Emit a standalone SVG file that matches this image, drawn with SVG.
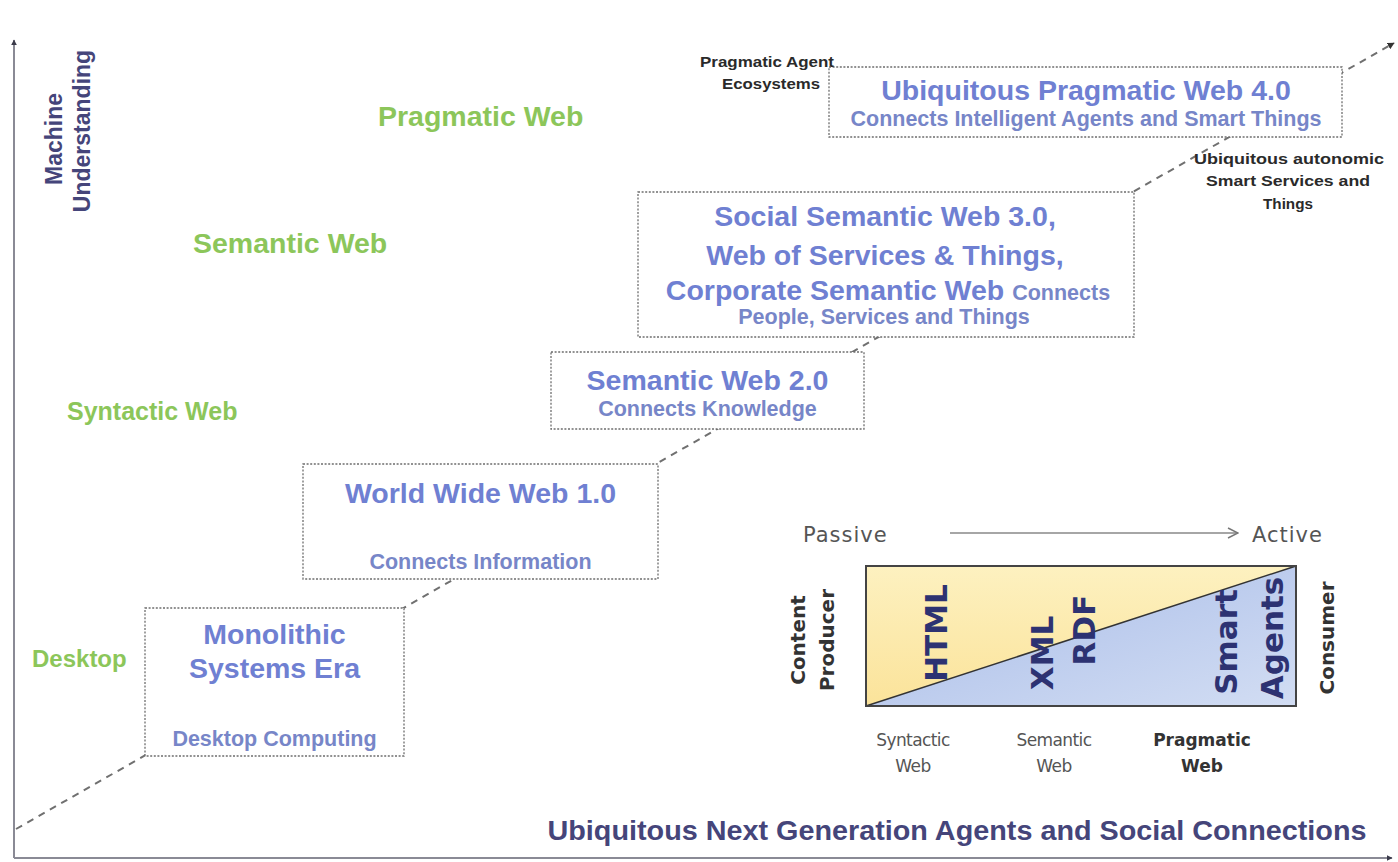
<svg xmlns="http://www.w3.org/2000/svg" width="1398" height="862" viewBox="0 0 1398 862">
<defs>
<style>
.box{fill:#fff;stroke:#6e6e6e;stroke-width:1.3;stroke-dasharray:2 1.6}
.t{font-family:"Liberation Sans",Arial,sans-serif;font-weight:bold;fill:#6f80d2;text-anchor:middle}
.tt{font-size:28.5px}
.ts{font-size:21.5px;fill:#7786c8}
.g{font-family:"Liberation Sans",Arial,sans-serif;font-weight:bold;fill:#8cc65a}
.k{font-family:"Liberation Sans",Arial,sans-serif;font-weight:bold;fill:#2a2a2a;font-size:15px;text-anchor:middle}
.ax{font-family:"Liberation Sans",Arial,sans-serif;font-weight:bold;fill:#45457a}
.dv{font-family:"DejaVu Sans",Verdana,sans-serif;fill:#555}
.dvb{font-family:"DejaVu Sans",Verdana,sans-serif;font-weight:bold;fill:#2d3272}
.axis{stroke:#8a8a95;stroke-width:2;fill:none}
.diag{stroke:#707070;stroke-width:2;stroke-dasharray:7 6;fill:none}
</style>
<marker id="ah" viewBox="0 0 10 10" refX="9" refY="5" markerWidth="6" markerHeight="6" orient="auto" markerUnits="userSpaceOnUse">
<path d="M0,0 L10,5 L0,10 z" fill="#3a3a4a"/>
</marker>
<marker id="ahs" viewBox="0 0 10 10" refX="9" refY="5" markerWidth="7" markerHeight="7" orient="auto" markerUnits="userSpaceOnUse">
<path d="M0,0 L10,5 L0,10 z" fill="#333"/>
</marker>
<marker id="open" viewBox="0 0 12 12" refX="11" refY="6" markerWidth="12" markerHeight="12" orient="auto" markerUnits="userSpaceOnUse">
<path d="M1,1 L11,6 L1,11" fill="none" stroke="#777" stroke-width="1.5"/>
</marker>
<linearGradient id="yel" x1="0" y1="0" x2="0" y2="1">
<stop offset="0" stop-color="#fdf1c0"/>
<stop offset="1" stop-color="#fbe39a"/>
</linearGradient>
<linearGradient id="blu" x1="0" y1="0" x2="1" y2="1">
<stop offset="0" stop-color="#a7bbe8"/>
<stop offset="1" stop-color="#d2ddf3"/>
</linearGradient>
</defs>
<rect width="1398" height="862" fill="#fff"/>

<g id="axes">
<line class="axis" x1="14" y1="858" x2="14" y2="40" marker-end="url(#ah)"/>
<line class="axis" x1="14" y1="858" x2="1392" y2="858" marker-end="url(#ah)"/>
<text class="ax" font-size="23" transform="translate(62,139) rotate(-90)" text-anchor="middle">Machine</text>
<text class="ax" font-size="23" transform="translate(90,131) rotate(-90)" text-anchor="middle">Understanding</text>
<text class="ax" font-size="27" x="957" y="840" text-anchor="middle" textLength="819" lengthAdjust="spacingAndGlyphs">Ubiquitous Next Generation Agents and Social Connections</text>
</g>

<g id="connectors">
<line class="diag" x1="16" y1="829" x2="1394" y2="43" marker-end="url(#ahs)"/>
</g>

<g id="levels">
<text class="g" font-size="28.5" x="378" y="126">Pragmatic Web</text>
<text class="g" font-size="28.5" x="193" y="253">Semantic Web</text>
<text class="g" font-size="25" x="67" y="420">Syntactic Web</text>
<text class="g" font-size="24" x="32" y="667">Desktop</text>
</g>

<g id="box1">
<rect class="box" x="145" y="608" width="259" height="148"/>
<text class="t tt" x="274.5" y="644">Monolithic</text>
<text class="t tt" x="274.5" y="678">Systems Era</text>
<text class="t ts" x="274.5" y="746">Desktop Computing</text>
</g>

<g id="box2">
<rect class="box" x="303" y="464" width="355" height="115"/>
<text class="t tt" x="480.5" y="503">World Wide Web 1.0</text>
<text class="t ts" x="480.5" y="569">Connects Information</text>
</g>

<g id="box3">
<rect class="box" x="551" y="352" width="313" height="77"/>
<text class="t tt" x="707.5" y="390">Semantic Web 2.0</text>
<text class="t ts" x="707.5" y="416">Connects Knowledge</text>
</g>

<g id="box4">
<rect class="box" x="638" y="192" width="496" height="145"/>
<text class="t tt" x="885" y="226">Social Semantic Web 3.0,</text>
<text class="t tt" x="885" y="265">Web of Services &amp; Things,</text>
<text class="t tt" x="888" y="300">Corporate Semantic Web <tspan class="ts" font-size="22px">Connects</tspan></text>
<text class="t ts" x="884" y="324" font-size="22px">People, Services and Things</text>
</g>

<g id="box5">
<rect class="box" x="829" y="67" width="513" height="70"/>
<text class="t tt" x="1086" y="100">Ubiquitous Pragmatic Web 4.0</text>
<text class="t ts" x="1086" y="126">Connects Intelligent Agents and Smart Things</text>
</g>

<g id="note-agents">
<text class="k" x="767" y="67" textLength="134" lengthAdjust="spacingAndGlyphs">Pragmatic Agent</text>
<text class="k" x="771" y="89" textLength="98" lengthAdjust="spacingAndGlyphs">Ecosystems</text>
</g>

<g id="note-services">
<text class="k" x="1289" y="164" textLength="190" lengthAdjust="spacingAndGlyphs">Ubiquitous autonomic</text>
<text class="k" x="1288" y="186" textLength="164" lengthAdjust="spacingAndGlyphs">Smart Services and</text>
<text class="k" x="1288" y="209" textLength="50" lengthAdjust="spacingAndGlyphs">Things</text>
</g>

<g id="inset">
<text class="dv" font-size="21" x="803" y="542" letter-spacing="1">Passive</text>
<line x1="950" y1="533" x2="1238" y2="533" stroke="#888" stroke-width="1.5" marker-end="url(#open)"/>
<text class="dv" font-size="21" x="1252" y="542" letter-spacing="1">Active</text>
<polygon points="866,566 1296,566 866,706" fill="url(#yel)"/>
<polygon points="1296,566 1296,706 866,706" fill="url(#blu)"/>
<line x1="866" y1="706" x2="1296" y2="566" stroke="#333" stroke-width="1.5"/>
<rect x="866" y="566" width="430" height="140" fill="none" stroke="#444" stroke-width="2"/>
<text class="dvb" font-size="31" transform="translate(947,633) rotate(-90)" text-anchor="middle">HTML</text>
<text class="dvb" font-size="31" transform="translate(1053,653) rotate(-90)" text-anchor="middle">XML</text>
<text class="dvb" font-size="31" transform="translate(1095,630) rotate(-90)" text-anchor="middle">RDF</text>
<text class="dvb" font-size="31" transform="translate(1237,642) rotate(-90)" text-anchor="middle">Smart</text>
<text class="dvb" font-size="31" transform="translate(1283,638) rotate(-90)" text-anchor="middle">Agents</text>
<text class="dvb" font-size="20" transform="translate(805,640) rotate(-90)" text-anchor="middle" style="fill:#333">Content</text>
<text class="dvb" font-size="20" transform="translate(834,640) rotate(-90)" text-anchor="middle" style="fill:#333">Producer</text>
<text class="dvb" font-size="20" transform="translate(1334,638) rotate(-90)" text-anchor="middle" style="fill:#333">Consumer</text>
<text class="dv" font-size="17" x="913" y="746" text-anchor="middle" letter-spacing="-0.6">Syntactic</text>
<text class="dv" font-size="17" x="913" y="772" text-anchor="middle" letter-spacing="-0.6">Web</text>
<text class="dv" font-size="17" x="1054" y="746" text-anchor="middle" letter-spacing="-0.6">Semantic</text>
<text class="dv" font-size="17" x="1054" y="772" text-anchor="middle" letter-spacing="-0.6">Web</text>
<text class="dvb" font-size="17" x="1202" y="746" text-anchor="middle" style="fill:#333">Pragmatic</text>
<text class="dvb" font-size="17" x="1202" y="772" text-anchor="middle" style="fill:#333">Web</text>
</g>
</svg>
